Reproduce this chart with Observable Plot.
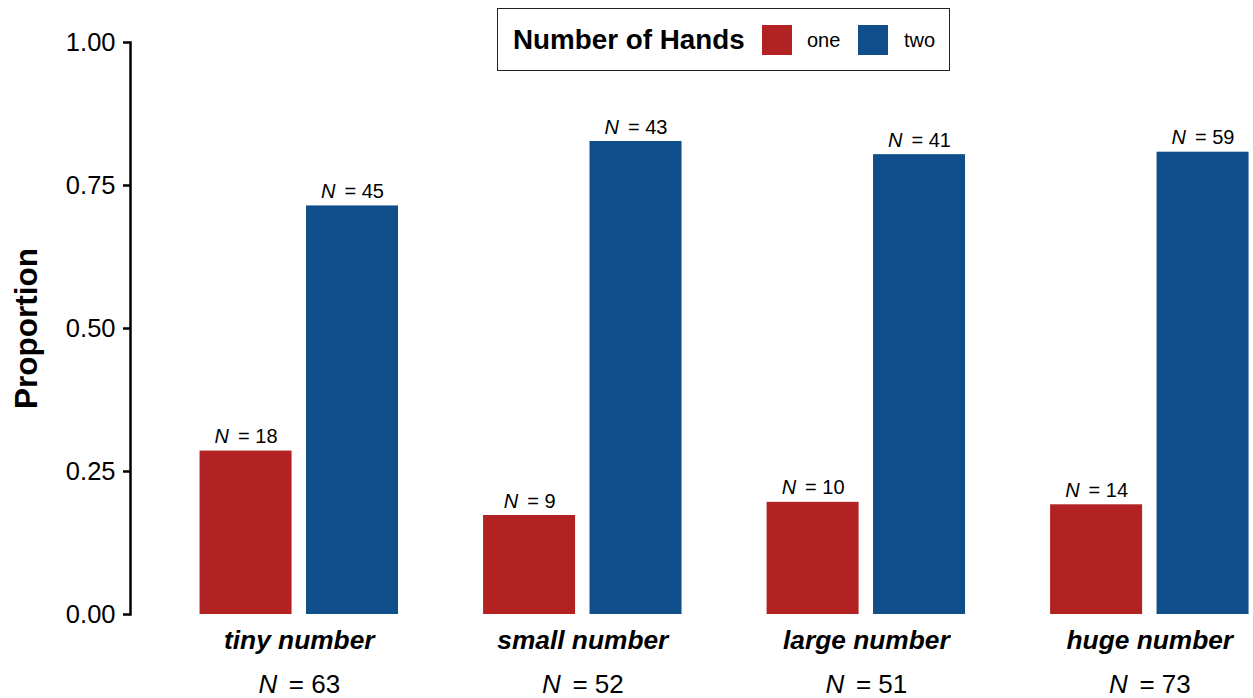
<!DOCTYPE html>
<html>
<head>
<meta charset="utf-8">
<script src="https://cdn.jsdelivr.net/npm/d3@7"></script>
<script src="https://cdn.jsdelivr.net/npm/@observablehq/plot@0.6"></script>
<style>
html, body { margin: 0; padding: 0; background: #fff; overflow: hidden; }
#wrap { position: relative; width: 1253px; height: 698px; font-family: "Liberation Sans", Arial, Helvetica, sans-serif; color: #000; }
#legend { position: absolute; left: 497px; top: 8px; width: 451px; height: 61px; border: 1.5px solid #222; background: #fff; }
#legend .item { position: absolute; top: 50%; transform: translateY(-50%); white-space: nowrap; }
#legend .title { font-weight: bold; font-size: 27.8px; }
#legend .sw { width: 30px; height: 30px; }
#legend .lab { font-size: 20px; }
</style>
</head>
<body>
<div id="wrap"><div id="chart"></div><div id="legend"></div></div>
<script>
// ---- data ----
const categories = ["tiny number", "small number", "large number", "huge number"];
const hands = ["one", "two"];
const oneCounts = [18, 9, 10, 14];
const twoCounts = [45, 43, 41, 59];
const yTicks = [0, 0.25, 0.5, 0.75, 1];
const legendTitle = "Number of Hands";
const colors = ["#B22222", "#104E8B"];

// ---- derived table ----
const rows = categories.flatMap((c, i) => {
  const total = oneCounts[i] + twoCounts[i];
  return [
    {category: c, hand: hands[0], count: oneCounts[i], prop: oneCounts[i] / total},
    {category: c, hand: hands[1], count: twoCounts[i], prop: twoCounts[i] / total}
  ];
});
const totals = categories.map((c, i) => ({category: c, total: oneCounts[i] + twoCounts[i]}));
const oneRows = rows.filter(d => d.hand === hands[0]);
const twoRows = rows.filter(d => d.hand === hands[1]);

const inset = 106.45;
const shift = 53.2;
const font = '"Liberation Sans", Arial, Helvetica, sans-serif';

const plot = Plot.plot({
  width: 1253,
  height: 698,
  marginLeft: 130,
  marginRight: 0,
  marginTop: 42,
  marginBottom: 84,
  style: {fontFamily: font, fontSize: "25px", color: "#000", background: "#fff", overflow: "visible"},
  x: {domain: categories, paddingInner: 0.3, paddingOuter: 0.1305, align: 0.94, round: false, axis: null},
  y: {domain: [0, 1], axis: null},
  color: {domain: hands, range: colors},
  marks: [
    Plot.barY(oneRows, {x: "category", y: "prop", fill: "hand", insetRight: inset}),
    Plot.barY(twoRows, {x: "category", y: "prop", fill: "hand", insetLeft: inset}),
    Plot.text(oneRows, {x: "category", y: "prop", text: d => `N = ${d.count}`, dx: -shift, dy: -8, lineAnchor: "bottom", fontSize: 20}),
    Plot.text(twoRows, {x: "category", y: "prop", text: d => `N = ${d.count}`, dx: shift, dy: -8, lineAnchor: "bottom", fontSize: 20}),
    Plot.axisY({ticks: yTicks, tickFormat: d3.format(".2f"), tickSize: 7, tickPadding: 8, fontSize: 25.5, strokeWidth: 2.5, label: null}),
    Plot.frame({anchor: "left", strokeWidth: 2.5}),
    Plot.text(["Proportion"], {text: d => d, frameAnchor: "left", textAnchor: "middle", dx: -104, rotate: -90, fontSize: 31.5, fontWeight: "bold"}),
    Plot.text(categories, {x: d => d, text: d => d, frameAnchor: "bottom", dy: 34, lineAnchor: "bottom", fontSize: 26.3, fontWeight: "bold", fontStyle: "italic"}),
    Plot.text(totals, {x: "category", text: d => `N = ${d.total}`, frameAnchor: "bottom", dy: 78, lineAnchor: "bottom", fontSize: 26})
  ]
});

// italic "N" in the count labels
d3.select(plot).selectAll("text").each(function () {
  const m = /^N = (\d+)$/.exec(this.textContent.trim());
  if (m) {
    const s = d3.select(this);
    s.selectAll("*").remove();
    s.text(null);
    s.append("tspan").attr("font-style", "italic").text("N");
    s.append("tspan").attr("dx", "0.45em").text("= " + m[1]);
  }
});

document.getElementById("chart").appendChild(plot);

// legend
const legend = document.getElementById("legend");
const addItem = (cls, left, text, bg) => {
  const el = document.createElement("div");
  el.className = "item " + cls;
  el.style.left = left + "px";
  if (text) el.textContent = text;
  if (bg) el.style.background = bg;
  legend.appendChild(el);
};
addItem("title", 15, legendTitle);
const swLeft = [264, 360];
const labLeft = [309, 406];
hands.forEach((h, i) => {
  addItem("sw", swLeft[i], null, colors[i]);
  addItem("lab", labLeft[i], h);
});
</script>
</body>
</html>
